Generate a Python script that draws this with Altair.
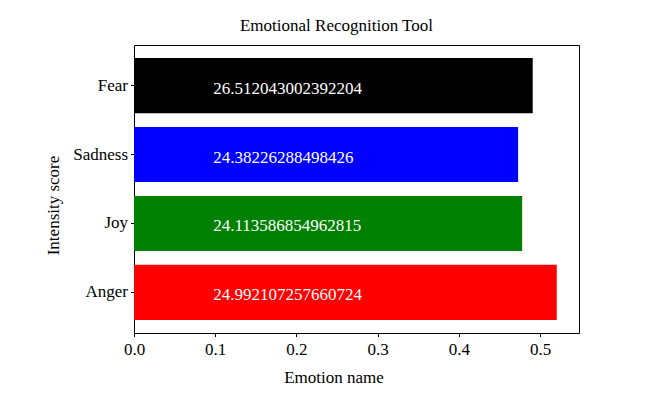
import altair as alt
import pandas as pd

emotions = ["Anger", "Joy", "Sadness", "Fear"]
values = [0.5206, 0.478, 0.473, 0.491]
labels = ["24.992107257660724", "24.113586854962815", "24.38226288498426", "26.512043002392204"]
colors = ["#ff0000", "#008000", "#0000ff", "#000000"]
x_ticks = [0.0, 0.1, 0.2, 0.3, 0.4, 0.5]
label_x = 0.1

df = pd.DataFrame({"emotion": emotions, "value": values, "label": labels,
                   "color": colors, "lx": [label_x] * len(emotions)})

FONT = "Liberation Serif"
order = ["Fear", "Sadness", "Joy", "Anger"]

y_enc = alt.Y("emotion:N", sort=order,
              scale=alt.Scale(paddingInner=0.2, paddingOuter=0.19),
              axis=alt.Axis(title="Intensity score", titleX=-81, titleY=160,
                            titleAlign="center", titleBaseline="middle", titleAngle=270,
                            labelPadding=3, tickSize=3.5))

bars = alt.Chart(df).mark_bar().encode(
    x=alt.X("value:Q", scale=alt.Scale(domain=[0, 0.548], nice=False, zero=True),
            axis=alt.Axis(title="Emotion name", values=x_ticks, format=".1f",
                          titleX=199.5, titleY=49, titleAlign="center",
                          titleBaseline="alphabetic", labelPadding=5, tickSize=3.5,
                          labelFlush=False, grid=False)),
    y=y_enc,
    color=alt.Color("color:N", scale=None),
)

text = alt.Chart(df).mark_text(align="left", baseline="alphabetic", dx=-2, dy=8,
                               color="white", font=FONT, fontSize=17).encode(
    x=alt.X("lx:Q"),
    y=alt.Y("emotion:N", sort=order),
    text="label:N",
)

chart = (bars + text).properties(
    width=445, height=288,
    title=alt.TitleParams("Emotional Recognition Tool", anchor="middle", dx=-20, dy=17,
                          baseline="alphabetic", offset=14, font=FONT, fontSize=17,
                          fontWeight="normal", color="black"),
    autosize=alt.AutoSizeParams(type="none"),
    padding={"left": 126, "top": 37, "right": 60, "bottom": 60},
).configure_view(stroke="black", strokeWidth=1).configure_axis(
    labelFont=FONT, titleFont=FONT, labelFontSize=17, titleFontSize=17,
    labelColor="black", titleColor="black", titleFontWeight="normal",
    domain=False, tickColor="black", grid=False,
)

chart.save("out.html", embed_options={"renderer": "svg", "actions": False})
